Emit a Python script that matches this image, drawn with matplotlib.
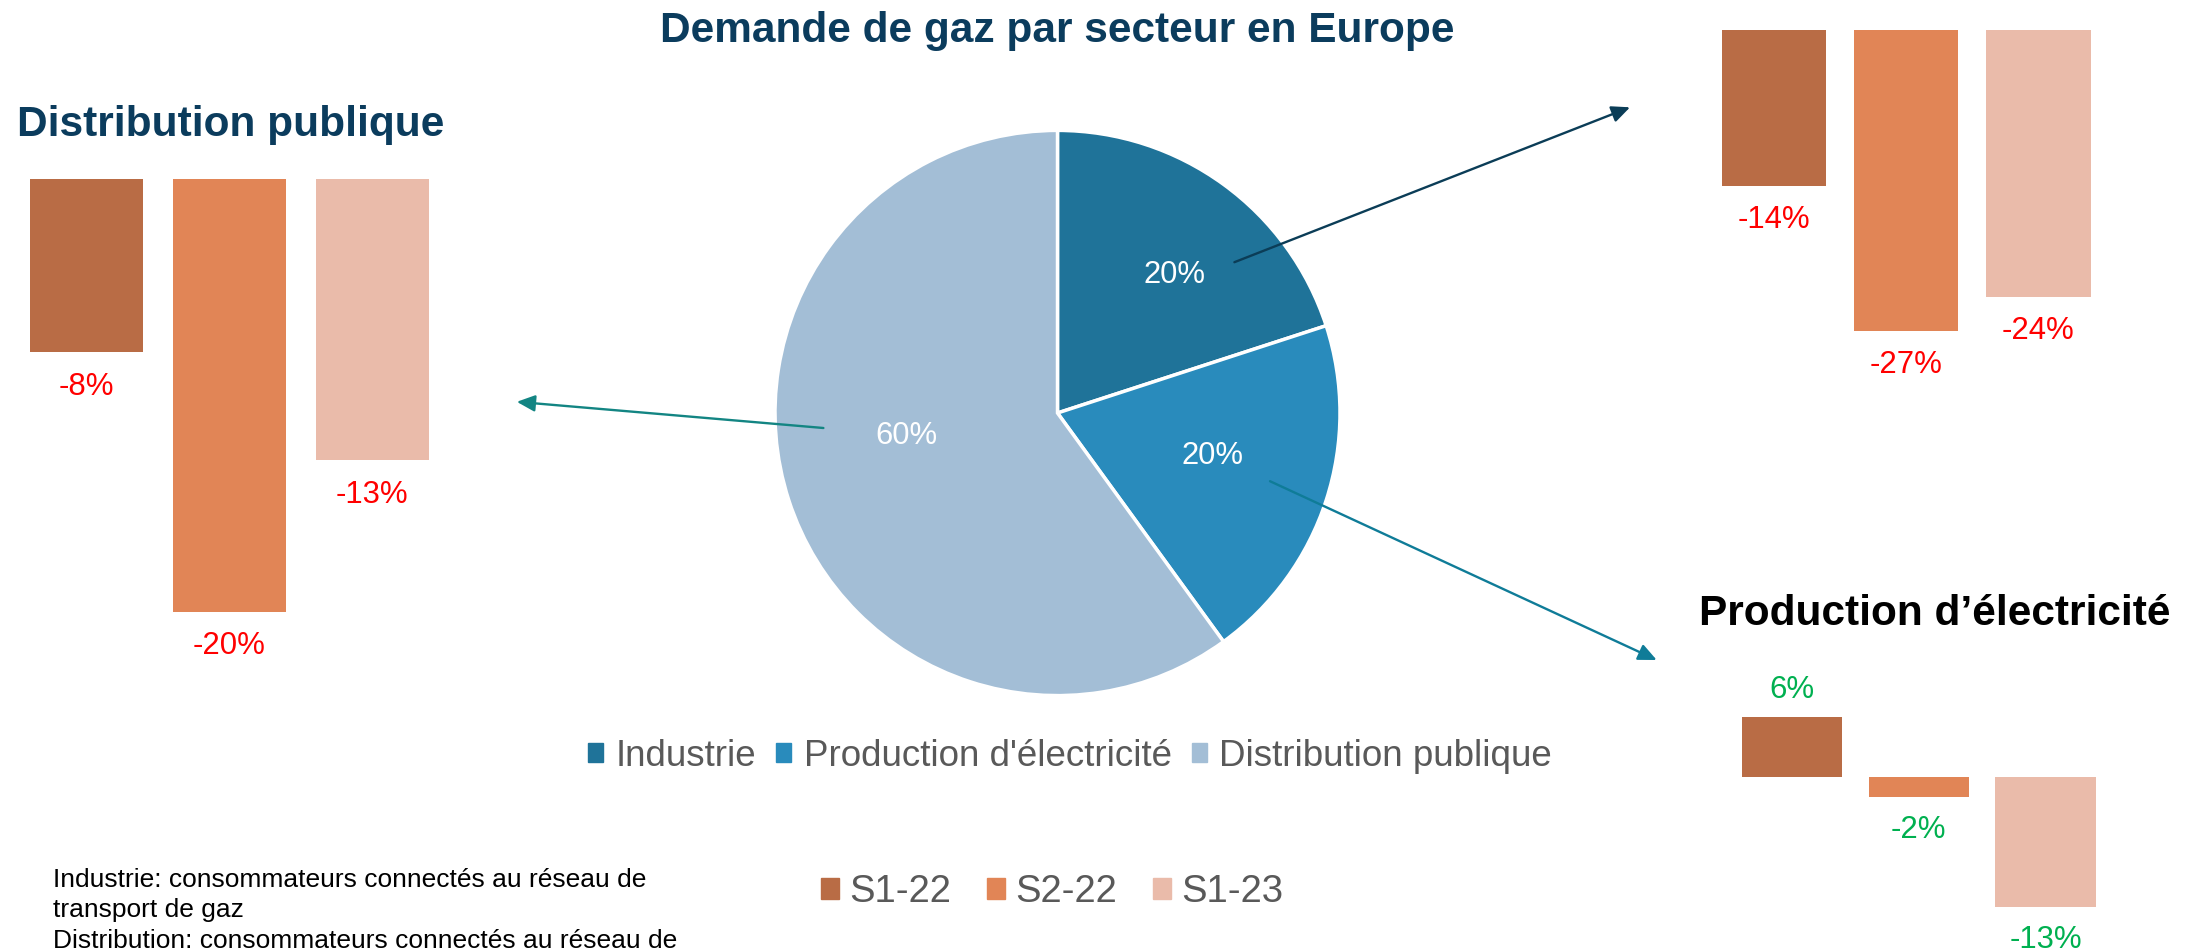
import numpy as np
import matplotlib.pyplot as plt
from matplotlib.patches import Patch, FancyArrowPatch

# ======================
# DATA
# ======================
sectors = ["Industrie", "Production d'électricité", "Distribution publique"]
shares = [20, 20, 60]

periods = ["S1-22", "S2-22", "S1-23"]
distrib_var = [-8, -20, -13]
industrie_var = [-14, -27, -24]
elec_var = [6, -2, -13]

# ======================
# STYLE
# ======================
sector_colors = ["#1F7399", "#298BBC", "#A3BED6"]
period_colors = ["#B96C45", "#E18556", "#EABBAA"]
navy = "#0B3C5D"
grey = "#595959"
plt.rcParams["font.family"] = ["Liberation Sans", "DejaVu Sans"]

W, H = 2201, 952
fig = plt.figure(figsize=(W / 100, H / 100), dpi=100)


def fx(px):
    return px / W


def fy(py):
    return 1 - py / H


def add_ax(x0, y0, x1, y1):
    # pixel box, origin top-left
    ax = fig.add_axes([x0 / W, 1 - y1 / H, (x1 - x0) / W, (y1 - y0) / H])
    ax.axis("off")
    return ax


def bar_panel(ax, values, ylim, label_color, up_px=18, down_px=42):
    x = np.arange(len(values))
    ax.bar(x, values, width=0.79, color=period_colors)
    ax.set_xlim(-0.5, len(values) - 0.5)
    ax.set_ylim(*ylim)
    for i, v in enumerate(values):
        off = up_px if v >= 0 else -down_px
        ax.annotate(f"{v}%", (i, v), xytext=(0, off * 0.72), textcoords="offset points",
                    ha="center", va="baseline", color=label_color, fontsize=22.4,
                    annotation_clip=False)


# ======================
# PIE
# ======================
ax_pie = add_ax(775, 130.4, 1340, 695.6)
wedges, texts, autotexts = ax_pie.pie(
    shares, colors=sector_colors, startangle=90, counterclock=False,
    autopct=lambda p: f"{p:.0f}%", pctdistance=0.6,
    wedgeprops=dict(edgecolor="white", linewidth=2.5),
    textprops=dict(color="white", fontsize=22.3),
)
ax_pie.set_aspect("auto")
ax_pie.set_xlim(-1, 1)
ax_pie.set_ylim(-1, 1)
# nudge percentage labels to where they sit in the original
label_pos = [(0.64, 49.5), (0.57, -15.5), (0.54, 188.7)]
for t, (r, a) in zip(autotexts, label_pos):
    t.set_position((r * np.cos(np.radians(a)), r * np.sin(np.radians(a))))

fig.text(fx(1057.5), fy(42.2), "Demande de gaz par secteur en Europe", ha="center",
         va="baseline", fontsize=30.5, fontweight="bold", color=navy)

sector_handles = [Patch(color=c) for c in sector_colors]
fig.legend(sector_handles, sectors, loc="center", bbox_to_anchor=(fx(1070), fy(756)),
           ncol=3, frameon=False, handlelength=0.4, handleheight=0.4,
           handletextpad=0.34, columnspacing=0.55, labelcolor=grey,
           prop=dict(size=26.5))

# ======================
# BAR PANELS
# ======================
ax_d = add_ax(15.0, 179, 443.9, 719.8)
bar_panel(ax_d, distrib_var, (-25, 0), "#FF0000", down_px=42.5)
fig.text(fx(16.8), fy(136), "Distribution publique", ha="left", va="baseline",
         fontsize=30.5, fontweight="bold", color=navy)

ax_i = add_ax(1707.9, 30, 2104.5, 364)
bar_panel(ax_i, industrie_var, (-30, 0), "#FF0000", down_px=42)

ax_e = add_ax(1728.6, 696.5, 2108.9, 926.5)
bar_panel(ax_e, elec_var, (-15, 8), "#00B050", up_px=18, down_px=42)
fig.text(fx(1698.7), fy(625), "Production d’électricité", ha="left", va="baseline",
         fontsize=30.5, fontweight="bold", color="black")

handles = [Patch(color=c) for c in period_colors]
fig.legend(handles, periods, loc="center", bbox_to_anchor=(fx(1052), fy(892)),
           ncol=3, frameon=False, handlelength=0.47, handleheight=0.5,
           handletextpad=0.26, columnspacing=0.95, labelcolor=grey,
           prop=dict(size=27.5))

# ======================
# ARROWS
# ======================
arrows = [
    ((823.4, 428), (516.8, 401.8), "#138583"),
    ((1234.4, 262.2), (1630, 107.3), "#0B3D57"),
    ((1270, 481.2), (1656.7, 660), "#0F7C98"),
]
for (x0, y0), (x1, y1), col in arrows:
    fig.add_artist(FancyArrowPatch((fx(x0), fy(y0)), (fx(x1), fy(y1)),
                                   transform=fig.transFigure, color=col, lw=1.7,
                                   shrinkA=0, shrinkB=0,
                                   arrowstyle="-|>,head_length=11,head_width=5"))

# ======================
# FOOTNOTE
# ======================
notes = ["Industrie: consommateurs connectés au réseau de",
         "transport de gaz",
         "Distribution: consommateurs connectés au réseau de"]
for line, base in zip(notes, [886.7, 917, 948]):
    fig.text(fx(52.9), fy(base), line, ha="left", va="baseline", fontsize=19,
             color="black")

fig.savefig("out.png", dpi=100)
